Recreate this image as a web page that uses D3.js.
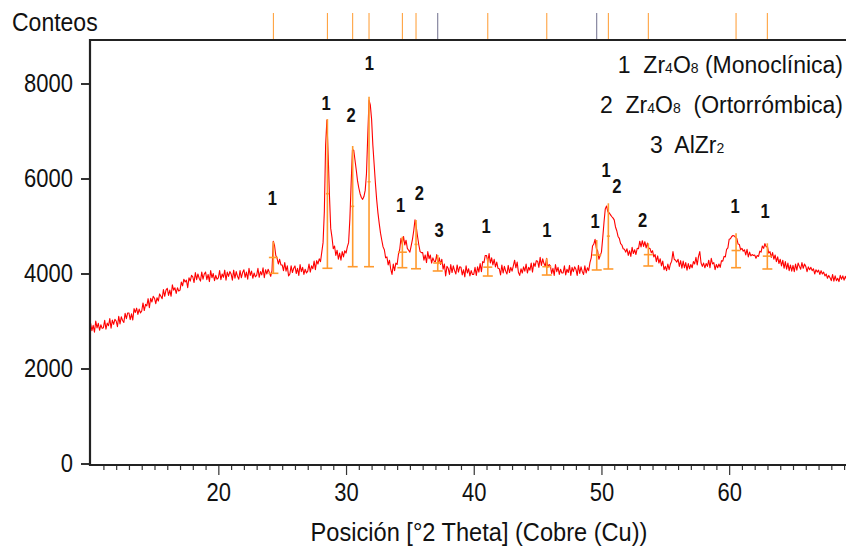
<!DOCTYPE html>
<html><head><meta charset="utf-8">
<script src="https://cdn.jsdelivr.net/npm/d3@7"></script>
<style>
body{margin:0;background:#fff}
svg{display:block}
text{font-family:"Liberation Sans",Arial,Helvetica,sans-serif;white-space:pre}
</style>
</head><body>
<svg id="chart" width="846" height="548"></svg>
<script>
// ---- data ----
const twoThetaStart = 10.0;
const twoThetaStep = 0.1;
const counts = [
2950,2795,2910,2765,3000,2855,2950,2805,2920,2845,
2860,3015,2830,2955,2900,3050,2850,3020,2930,3035,
3000,2880,3100,2940,3090,3010,2970,3160,3050,3170,
3170,3030,3150,3020,3260,3180,3270,3140,3250,3170,
3210,3380,3220,3350,3320,3470,3280,3480,3400,3520,
3480,3365,3490,3420,3570,3520,3470,3660,3520,3650,
3690,3540,3650,3520,3760,3650,3700,3580,3700,3630,
3650,3820,3740,3880,3820,3860,3700,3910,3840,3960,
3930,3810,4020,3870,3990,3900,3840,4030,3880,3990,
4030,3870,3980,3830,4060,3910,4000,3850,3960,3880,
3910,4060,3870,3990,3920,4070,3860,4030,3940,4040,
3990,3860,4070,3900,4040,3940,3880,4060,3910,4020,
4080,3920,4030,3880,4110,3960,4050,3900,4010,3930,
3960,4110,3920,4040,3970,4120,3910,4080,3990,4090,
4020,3940,4060,4680,4590,4380,4320,4200,4300,4180,
4180,4060,4230,4050,4160,3950,3990,4160,4020,4110,
4160,4000,4110,3960,4190,4040,4130,3980,4090,4010,
4050,4200,4030,4160,4100,4260,4080,4270,4200,4310,
4250,4450,4650,5300,6700,7230,6500,5650,4950,4760,
4520,4580,4380,4490,4300,4430,4280,4460,4350,4480,
4430,4560,4650,5150,5900,6600,6600,6390,6180,5950,
5800,5680,5600,5560,5620,5750,6100,6900,7650,7550,
7250,6700,6300,5900,5550,5270,5050,4850,4700,4560,
4500,4330,4350,4180,4280,4090,3980,4200,4060,4220,
4190,4400,4500,4740,4620,4780,4600,4700,4530,4490,
4450,4580,4720,4900,5130,4980,4780,4600,4460,4440,
4440,4280,4390,4230,4460,4310,4390,4220,4330,4260,
4250,4400,4200,4330,4190,4300,4090,4200,3950,4150,
4110,3980,4190,4020,4160,4060,3990,4180,4030,4140,
4130,3970,4080,3930,4160,4010,4100,3950,4060,3980,
3980,4130,3960,4140,4030,4210,4040,4250,4230,4380,
4380,4240,4420,4220,4330,4180,4300,4140,4240,4110,
4100,3970,4180,4010,4150,4050,3990,4170,4020,4130,
4050,4160,4280,4120,4240,4020,3960,4100,4010,4140,
4050,4200,4010,4130,4070,4220,4030,4220,4150,4270,
4260,4130,4340,4170,4310,4210,4150,4320,4130,4190,
4160,4000,4110,3960,4190,4040,4130,3980,4090,4010,
4010,4160,3970,4090,4020,4170,3960,4130,4040,4140,
4090,3960,4170,4000,4140,4040,3980,4160,4010,4120,
4060,4230,4330,4580,4620,4720,4530,4480,4300,4380,
4450,4750,5080,5360,5420,5300,5280,5240,5200,5170,
5130,4980,4900,4780,4740,4630,4600,4520,4510,4450,
4520,4380,4480,4360,4550,4420,4500,4400,4530,4520,
4680,4560,4690,4570,4670,4540,4640,4530,4530,4440,
4480,4350,4400,4250,4370,4220,4310,4160,4260,4080,
4150,4060,4200,4080,4200,4260,4460,4300,4280,4240,
4300,4150,4270,4110,4260,4120,4230,4070,4210,4100,
4190,4120,4250,4200,4340,4180,4360,4460,4220,4150,
4220,4120,4210,4150,4280,4120,4320,4200,4230,4080,
4190,4120,4200,4130,4270,4260,4360,4350,4510,4540,
4720,4730,4780,4800,4790,4760,4740,4620,4610,4500,
4530,4470,4500,4390,4510,4350,4450,4370,4400,4380,
4390,4320,4380,4360,4470,4450,4580,4530,4630,4560,
4570,4430,4460,4340,4440,4300,4390,4250,4350,4210,
4300,4160,4280,4110,4250,4090,4220,4060,4180,4050,
4170,4040,4200,4070,4220,4150,4090,4230,4110,4200,
4150,4040,4140,4080,4130,4060,4100,3990,4080,4030,
4070,3980,4060,3990,4030,3950,3990,3900,3960,3910,
3850,3980,3840,3950,3850,3900,3830,3960,3880,3950,
3860,3940,3870
];

const xMajorTicks = [20, 30, 40, 50, 60];
const yTickValues = [0, 2000, 4000, 6000, 8000];

// reference pattern sticks (2θ, top counts, background counts, phase)
const stickPos   = [24.31, 28.54, 30.52, 31.80, 34.41, 35.48, 37.18, 41.10, 45.72, 49.63, 50.54, 53.67, 60.54, 62.99];
const stickTop   = [4670, 7250, 6684, 7720, 4775, 5126, 4390, 4320, 4320, 4705, 5478, 4636, 4846, 4636];
const stickBase  = [4004, 4110, 4143, 4143, 4122, 4100, 4053, 3947, 3968, 4074, 4095, 4158, 4122, 4095];
const stickPhase = [1, 1, 2, 1, 1, 2, 3, 1, 1, 3, 1, 2, 1, 1];

// peak annotations
const labelText  = ["1","1","2","1","1","2","3","1","1","1","1","2","2","1","1"];
const labelPos   = [24.23, 28.43, 30.39, 31.82, 34.28, 35.74, 37.28, 40.96, 45.72, 49.50, 50.36, 51.20, 53.23, 60.46, 62.81];
const labelCount = [5442, 7442, 7196, 8284, 5301, 5547, 4775, 4846, 4775, 4952, 6038, 5701, 4973, 5280, 5162];

// legend
const legendNum  = ["1", "2", "3"];
const legendName = [["Zr","4","O","8"," (Monoclínica)"], ["Zr","4","O","8","  (Ortorrómbica)"], ["AlZr","2"]];

(function () {
const svg = d3.select("#chart");
const W = 846, H = 548;
const mL = 90, mR = 846, mT = 40, mB = 465;

const x = d3.scaleLinear().domain([9.95, 69.15]).range([mL, mR]);
const y = d3.scaleLinear().domain([0, 8000]).range([463.5, 83.5]);

svg.append("rect").attr("width", W).attr("height", H).attr("fill", "#fff");

svg.append("defs").append("clipPath").attr("id", "clip")
  .append("rect").attr("x", mL).attr("y", mT).attr("width", mR - mL).attr("height", mB - mT);

// curve
const pts = counts.map((c, i) => [twoThetaStart + i * twoThetaStep, c]);
svg.append("path")
  .attr("clip-path", "url(#clip)")
  .attr("d", d3.line().x(d => x(d[0])).y(d => y(d[1]))(pts))
  .attr("fill", "none").attr("stroke", "#ff0000").attr("stroke-width", 1.1)
  .attr("stroke-linejoin", "round");

// sticks
const stickColor = "#ff9a2e";
const sg = svg.append("g").attr("stroke", stickColor).attr("stroke-width", 1.6).attr("fill", "none");
stickPos.forEach((p, i) => {
  const px = x(p), yt = y(stickTop[i]), yb = y(stickBase[i]);
  const ym = (yt + yb) / 2;
  const midW = (yb - yt) < 45 ? 9 : 3;
  sg.append("line").attr("x1", px).attr("x2", px).attr("y1", yb).attr("y2", yt);
  sg.append("line").attr("x1", px - 5).attr("x2", px + 5).attr("y1", yb).attr("y2", yb);
  sg.append("line").attr("x1", px - midW / 2).attr("x2", px + midW / 2).attr("y1", ym).attr("y2", ym);
});

// top strip markers
stickPos.forEach((p, i) => {
  svg.append("line")
    .attr("x1", x(p)).attr("x2", x(p)).attr("y1", 13).attr("y2", 40)
    .attr("stroke", stickPhase[i] === 3 ? "#6e6e8c" : stickColor).attr("stroke-width", 1);
});

// peak labels
labelText.forEach((t, i) => {
  svg.append("text")
    .attr("transform", `translate(${x(labelPos[i])},${y(labelCount[i])}) scale(0.92,1.1)`)
    .attr("text-anchor", "middle").attr("font-size", 18).attr("font-weight", "bold")
    .attr("fill", "#111").text(t);
});

// axes
const yAxis = d3.axisLeft(y).tickValues(yTickValues).tickSize(9).tickPadding(8).tickFormat(d3.format("d"));
const gy = svg.append("g").attr("transform", `translate(${mL},0)`).call(yAxis);
gy.select(".domain").remove();
gy.selectAll(".tick line").attr("stroke", "#333").attr("stroke-width", 2);
gy.selectAll(".tick text").attr("font-size", 22).attr("fill", "#111")
  .attr("font-family", "'Liberation Sans',Arial,sans-serif")
  .attr("transform", "scale(1,1.15)");

const xMinor = d3.range(11, 70, 1).filter(v => xMajorTicks.indexOf(v) < 0);
const gxm = svg.append("g").attr("transform", `translate(0,${mB})`)
  .call(d3.axisBottom(x).tickValues(xMinor).tickSize(5).tickFormat(""));
gxm.select(".domain").remove();
gxm.selectAll(".tick line").attr("stroke", "#333").attr("stroke-width", 1.2);

const gx = svg.append("g").attr("transform", `translate(0,${mB})`)
  .call(d3.axisBottom(x).tickValues(xMajorTicks).tickSize(10).tickPadding(6));
gx.select(".domain").remove();
gx.selectAll(".tick line").attr("stroke", "#333").attr("stroke-width", 1.2);
gx.selectAll(".tick text").attr("font-size", 22).attr("fill", "#111")
  .attr("font-family", "'Liberation Sans',Arial,sans-serif")
  .attr("transform", "scale(1,1.15)");

// frame lines
svg.append("line").attr("x1", mL).attr("x2", mR).attr("y1", mB).attr("y2", mB)
  .attr("stroke", "#222").attr("stroke-width", 2.2);
svg.append("line").attr("x1", mL).attr("x2", mL).attr("y1", mT - 1).attr("y2", mB + 1)
  .attr("stroke", "#222").attr("stroke-width", 2.2);
svg.append("line").attr("x1", mL - 1).attr("x2", mR).attr("y1", mT).attr("y2", mT)
  .attr("stroke", "#222").attr("stroke-width", 2.2);

// titles
svg.append("text").attr("transform", "translate(12,31) scale(1,1.13)")
  .attr("font-size", 23).attr("fill", "#111").text("Conteos");
svg.append("text").attr("transform", "translate(479,541) scale(1,1.13)")
  .attr("text-anchor", "middle").attr("font-size", 23.6).attr("fill", "#111")
  .text("Posición [°2 Theta] (Cobre (Cu))");

// legend
const legendY = [73, 113, 153];
const legendX = [843, 843, 650];
const legendAnchor = ["end", "end", "start"];
legendNum.forEach((n, i) => {
  const t = svg.append("text").attr("x", legendX[i]).attr("y", legendY[i])
    .attr("text-anchor", legendAnchor[i]).attr("font-size", 23).attr("fill", "#111");
  t.append("tspan").text(n + "  ");
  legendName[i].forEach((part) => {
    const sub = /^\d$/.test(part);
    t.append("tspan").attr("font-size", sub ? 14 : 23).text(part);
  });
});
})();
</script>
</body></html>
